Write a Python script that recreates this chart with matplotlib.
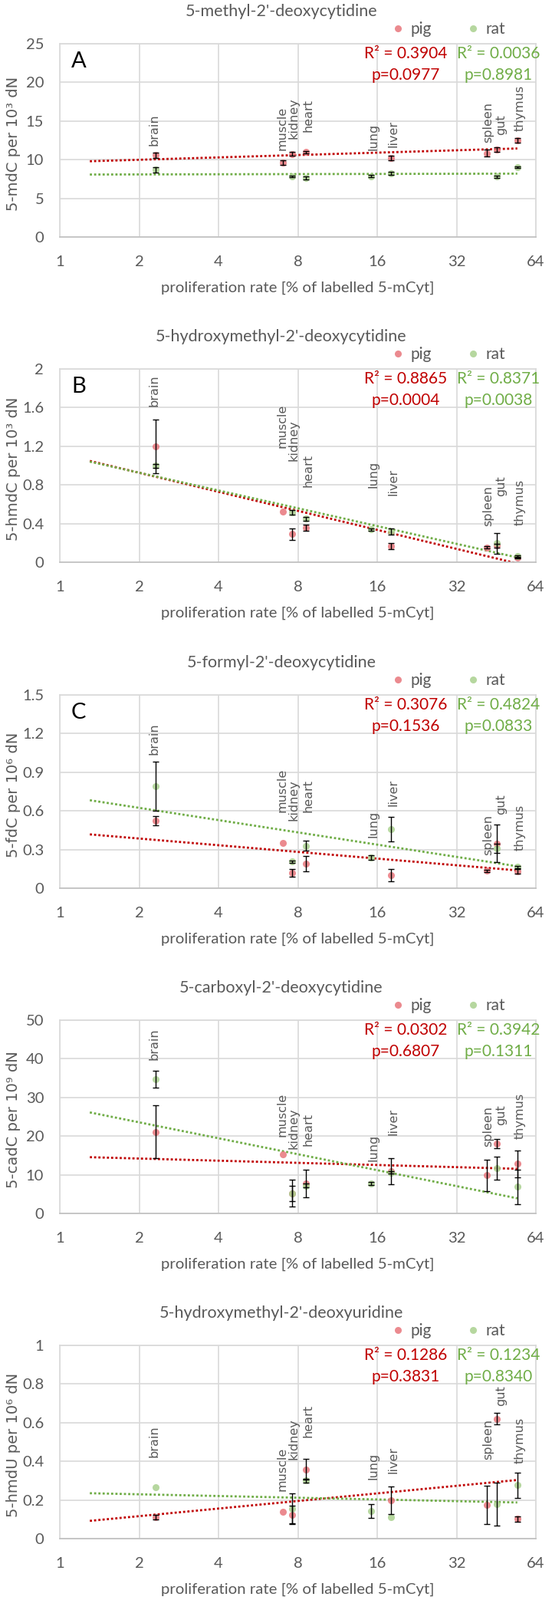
import numpy as np
import matplotlib
matplotlib.use("Agg")
import matplotlib.pyplot as plt
import matplotlib.transforms as mtransforms
from matplotlib.lines import Line2D
from matplotlib.ticker import FuncFormatter, FixedLocator

# tissues and proliferation rate (% of labelled 5-mCyt)
tissues = ["brain", "muscle", "kidney", "heart", "lung", "liver", "spleen", "gut", "thymus"]
prolif = [2.31, 7.0, 7.6, 8.6, 15.2, 18.0, 41.6, 45.4, 54.4]
nan = np.nan

# A: 5-mdC per 10^3 dN
mdC_pig = [10.6, 9.66, 10.75, 11.0, nan, 10.25, 10.85, 11.35, 12.47]
mdC_pig_err = [0.35, 0.3, 0.25, 0.15, nan, 0.3, 0.45, 0.3, 0.3]
mdC_rat = [8.7, nan, 7.8, 7.64, 7.87, 8.27, nan, 7.8, 9.0]
mdC_rat_err = [0.35, nan, 0.1, 0.15, 0.15, 0.2, nan, 0.15, 0.1]

# B: 5-hmdC per 10^3 dN
hmdC_pig = [1.2, 0.52, 0.29, 0.355, nan, 0.167, 0.151, 0.172, 0.048]
hmdC_pig_err = [0.28, 0, 0.06, 0.03, nan, 0.03, 0.012, 0.02, 0.01]
hmdC_rat = [0.997, nan, 0.516, 0.452, 0.339, 0.317, nan, 0.196, 0.06]
hmdC_rat_err = [0.02, nan, 0.02, 0.02, 0.01, 0.03, nan, 0.105, 0.01]

# C: 5-fdC per 10^6 dN
fdC_pig = [0.522, 0.353, 0.119, 0.19, nan, 0.101, 0.135, 0.347, 0.131]
fdC_pig_err = [0.035, 0, 0.03, 0.06, nan, 0.045, 0.01, 0.145, 0.015]
fdC_rat = [0.794, nan, 0.206, 0.329, 0.238, 0.458, nan, 0.31, 0.165]
fdC_rat_err = [0.19, nan, 0.01, 0.04, 0.02, 0.095, nan, 0.035, 0.01]

# D: 5-cadC per 10^9 dN
cadC_pig = [21.1, 15.3, 5.2, 7.7, nan, 10.9, 9.85, 18.0, 12.8]
cadC_pig_err = [6.8, 0, 3.5, 3.6, nan, 3.3, 4.1, 1.2, 3.4]
cadC_rat = [34.8, nan, 5.2, 7.2, 7.7, 10.6, nan, 11.7, 6.9]
cadC_rat_err = [2.2, nan, 2.0, 0.5, 0.4, 0.3, nan, 3.0, 4.5]

# E: 5-hmdU per 10^6 dN
hmdU_pig = [0.11, 0.139, 0.125, 0.359, nan, 0.198, 0.174, 0.621, 0.102]
hmdU_pig_err = [0.012, 0, 0.045, 0.055, nan, 0.07, 0.1, 0.028, 0.015]
hmdU_rat = [0.267, nan, 0.156, 0.301, 0.143, 0.11, nan, 0.178, 0.277]
hmdU_rat_err = [0, nan, 0.08, 0.01, 0.035, 0, nan, 0.11, 0.065]

titles = ["5-methyl-2'-deoxycytidine", "5-hydroxymethyl-2'-deoxycytidine",
          "5-formyl-2'-deoxycytidine", "5-carboxyl-2'-deoxycytidine",
          "5-hydroxymethyl-2'-deoxyuridine"]
ylabels = ["5-mdC per 10³ dN", "5-hmdC per 10³ dN", "5-fdC per 10⁶ dN",
           "5-cadC per 10⁹ dN", "5-hmdU per 10⁶ dN"]
letters = ["A", "B", "C", "", ""]
r2_pig = ["R² = 0.3904", "R² = 0.8865", "R² = 0.3076", "R² = 0.0302", "R² = 0.1286"]
p_pig = ["p=0.0977", "p=0.0004", "p=0.1536", "p=0.6807", "p=0.3831"]
r2_rat = ["R² = 0.0036", "R² = 0.8371", "R² = 0.4824", "R² = 0.3942", "R² = 0.1234"]
p_rat = ["p=0.8981", "p=0.0038", "p=0.0833", "p=0.1311", "p=0.8340"]
ymax = [25, 2, 1.5, 50, 1]
ystep = [5, 0.4, 0.3, 10, 0.2]

# where the tissue names sit (data units, bottom of the rotated text)
label_y = [
    [11.84, 11.18, 12.73, 13.59, 11.18, 11.57, 12.17, 13.23, 13.66],
    [1.614, 1.183, 1.045, 0.78, 0.767, 0.693, 0.37, 0.68, 0.378],
    [1.038, 0.587, 0.522, 0.591, 0.393, 0.637, 0.256, 0.571, 0.29],
    [39.6, 19.8, 16.6, 17.4, 13.5, 20.3, 17.3, 22.8, 19.2],
    [0.42, 0.248, 0.41, 0.522, 0.306, 0.337, 0.41, 0.687, 0.39],
]
# small sideways nudge of each name, in pixels
label_dx = [-2, -1, 2, 3, 3, 3, 2, 6, 3]

panels = [
    (mdC_pig, mdC_pig_err, mdC_rat, mdC_rat_err),
    (hmdC_pig, hmdC_pig_err, hmdC_rat, hmdC_rat_err),
    (fdC_pig, fdC_pig_err, fdC_rat, fdC_rat_err),
    (cadC_pig, cadC_pig_err, cadC_rat, cadC_rat_err),
    (hmdU_pig, hmdU_pig_err, hmdU_rat, hmdU_rat_err),
]

PIG = "#E8767C"
RAT = "#A9D18E"
PIG_TXT = "#C00000"
RAT_TXT = "#70AD47"
GREY = "#595959"
GRID = "#D9D9D9"
CAL = ["Lato", "DejaVu Sans"]

W, H = 720, 2086
fig = plt.figure(figsize=(W / 100, H / 100), dpi=100)
left, right, ph = 78, 699, 252
tops = [57, 481, 906, 1330, 1754]

x = np.array(prolif)

for i, (pig, pig_err, rat, rat_err) in enumerate(panels):
    top = tops[i]
    ax = fig.add_axes([left / W, 1 - (top + ph) / H, (right - left) / W, ph / H])
    ax.set_xscale("log", base=2)
    ax.set_xlim(1, 64)
    ax.set_ylim(0, ymax[i])
    ax.xaxis.set_major_locator(FixedLocator([1, 2, 4, 8, 16, 32, 64]))
    ax.xaxis.set_minor_locator(FixedLocator([]))
    ax.xaxis.set_major_formatter(FuncFormatter(lambda v, p: "%g" % v))
    ax.set_yticks(np.arange(0, ymax[i] + ystep[i] / 2, ystep[i]))
    ax.yaxis.set_major_formatter(FuncFormatter(lambda v, p: "%g" % round(v, 3)))
    ax.grid(True, color=GRID, lw=1.2)
    ax.set_axisbelow(True)
    for s in ax.spines.values():
        s.set_color(GRID)
        s.set_linewidth(1.2)
    ax.spines["bottom"].set_color("#BFBFBF")
    ax.tick_params(length=0, labelsize=14.5, labelcolor=GREY)
    ax.tick_params(axis="y", pad=15)
    ax.tick_params(axis="x", pad=17)
    for t in ax.get_xticklabels() + ax.get_yticklabels():
        t.set_family(CAL)

    # series, trend lines and error bars
    for vals, errs, col, tcol in [(pig, pig_err, PIG, PIG_TXT), (rat, rat_err, RAT, RAT_TXT)]:
        v = np.array(vals, dtype=float)
        e = np.array(errs, dtype=float)
        ok = ~np.isnan(v)
        ax.plot(x[ok], v[ok], "o", color=col, ms=6.5, alpha=0.85, mec="none", zorder=3)
        coef = np.polyfit(np.log(x[ok]), v[ok], 1)
        xt = np.linspace(np.log(1.3), np.log(x[ok].max()), 50)
        ax.plot(np.exp(xt), np.polyval(coef, xt), color=tcol, lw=2,
                ls=(0, (1, 1)), zorder=2)
        ok_e = ok & (np.nan_to_num(e) > 0)
        ax.errorbar(x[ok_e], v[ok_e], yerr=e[ok_e], fmt="none", ecolor="black",
                    elinewidth=1, capsize=3, capthick=1, zorder=4)

    # tissue names
    for xi, name, ly, dx in zip(prolif, tissues, label_y[i], label_dx):
        tr = mtransforms.offset_copy(ax.transData, fig=fig, x=dx, y=0, units="dots")
        ax.text(xi, ly, name, rotation=90, ha="center", va="bottom", transform=tr,
                fontsize=11.5, color=GREY, family="DejaVu Sans", zorder=5)

    # statistics
    kw = dict(transform=ax.transAxes, ha="center", va="center", fontsize=15, family=CAL)
    ax.text(0.726, 0.948, r2_pig[i], color=PIG_TXT, **kw)
    ax.text(0.726, 0.837, p_pig[i], color=PIG_TXT, **kw)
    ax.text(0.921, 0.948, r2_rat[i], color=RAT_TXT, **kw)
    ax.text(0.921, 0.837, p_rat[i], color=RAT_TXT, **kw)

    if letters[i]:
        ax.text(0.04, 0.91, letters[i], transform=ax.transAxes, ha="center",
                va="center", fontsize=21, family=CAL, color="black")

    # title, legend, axis labels
    fig.text(367 / W, 1 - (top - 42) / H, titles[i], ha="center", va="center",
             fontsize=15.5, color=GREY, family=CAL)
    handles = [Line2D([], [], marker="o", ls="", color=PIG, alpha=0.85, mec="none", ms=6.5),
               Line2D([], [], marker="o", ls="", color=RAT, alpha=0.85, mec="none", ms=6.5)]
    leg = ax.legend(handles, ["pig", "rat"], loc="center",
                    bbox_to_anchor=((586 - left) / (right - left), 1 + 19 / ph),
                    ncol=2, frameon=False, fontsize=15, handlelength=0.6,
                    handletextpad=0.5, columnspacing=2.3, borderpad=0)
    for t in leg.get_texts():
        t.set_color(GREY)
        t.set_family(CAL)
    ax.set_xlabel("proliferation rate [% of labelled 5-mCyt]", fontsize=14.7,
                  color=GREY, family=CAL, va="center")
    ax.xaxis.set_label_coords(0.5, -66 / ph)
    fig.text(18 / W, 1 - (top + ph / 2 + 4) / H, ylabels[i], rotation=90,
             ha="center", va="center", fontsize=14, color=GREY, family="DejaVu Sans")

fig.savefig("out.png", dpi=100)
